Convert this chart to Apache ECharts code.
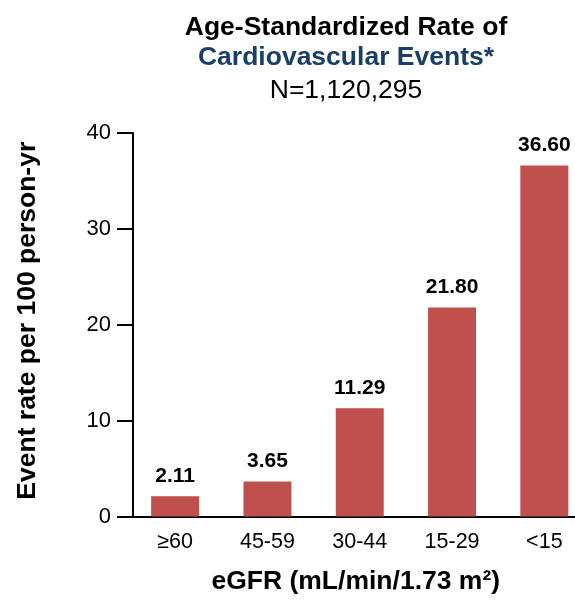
<!DOCTYPE html>
<html>
<head>
<meta charset="utf-8">
<script src="https://cdn.jsdelivr.net/npm/echarts@6/dist/echarts.min.js"></script>
<style>html,body{margin:0;padding:0;background:#fff;}#chart{width:575px;height:600px;}</style>
</head>
<body>
<div id="chart"></div>
<script>
const categories = ['≥60', '45-59', '30-44', '15-29', '<15'];
const eventRates = [2.11, 3.65, 11.29, 21.80, 36.60];
const yTicks = [0, 10, 20, 30, 40];

const FONT = 'Liberation Sans, Arial, Helvetica, sans-serif';
const chart = echarts.init(document.getElementById('chart'), null, {renderer: 'canvas'});
chart.setOption({
  animation: false,
  backgroundColor: '#ffffff',
  title: [
    {text: 'Age-Standardized Rate of', left: 341, top: 9, textAlign: 'center',
     textStyle: {fontFamily: FONT, fontSize: 26.5, fontWeight: 'bold', color: '#000000'}},
    {text: 'Cardiovascular Events*', left: 341, top: 39, textAlign: 'center',
     textStyle: {fontFamily: FONT, fontSize: 26.5, fontWeight: 'bold', color: '#1A3F66'}},
    {text: 'N=1,120,295', left: 341, top: 72, textAlign: 'center',
     textStyle: {fontFamily: FONT, fontSize: 26.5, fontWeight: 'normal', color: '#000000'}}
  ],
  grid: {left: 129, right: -15.5, top: 133, bottom: 83.5, containLabel: false, outerBoundsMode: 'none'},
  xAxis: {
    type: 'category',
    data: categories,
    name: 'eGFR (mL/min/1.73 m²)',
    nameLocation: 'middle',
    nameGap: 52,
    nameTextStyle: {fontFamily: FONT, fontSize: 26.5, fontWeight: 'bold', color: '#000000', padding: [0, 8, 0, 0]},
    axisLine: {show: true, lineStyle: {color: '#000000', width: 2}},
    axisTick: {show: false},
    axisLabel: {fontFamily: FONT, fontSize: 21.5, color: '#000000', margin: 15},
    splitLine: {show: false}
  },
  yAxis: {
    type: 'value',
    min: yTicks[0],
    max: yTicks[yTicks.length - 1],
    interval: 10,
    offset: -4,
    name: 'Event rate per 100 person-yr',
    nameLocation: 'middle',
    nameGap: 92,
    nameRotate: 90,
    nameTextStyle: {fontFamily: FONT, fontSize: 26.5, fontWeight: 'bold', color: '#000000', padding: [0, 0, 0, 8]},
    axisLine: {show: true, lineStyle: {color: '#000000', width: 2}},
    axisTick: {show: true, inside: false, length: 16, lineStyle: {color: '#000000', width: 2}},
    axisLabel: {fontFamily: FONT, fontSize: 22, color: '#000000', margin: 22},
    splitLine: {show: false}
  },
  series: [{
    type: 'bar',
    data: eventRates,
    barWidth: 48,
    itemStyle: {color: '#C0504D'},
    label: {
      show: true, position: 'top', distance: 10,
      fontFamily: FONT, fontSize: 21, fontWeight: 'bold', color: '#000000',
      formatter: p => p.value.toFixed(2)
    }
  }]
});
</script>
</body>
</html>
